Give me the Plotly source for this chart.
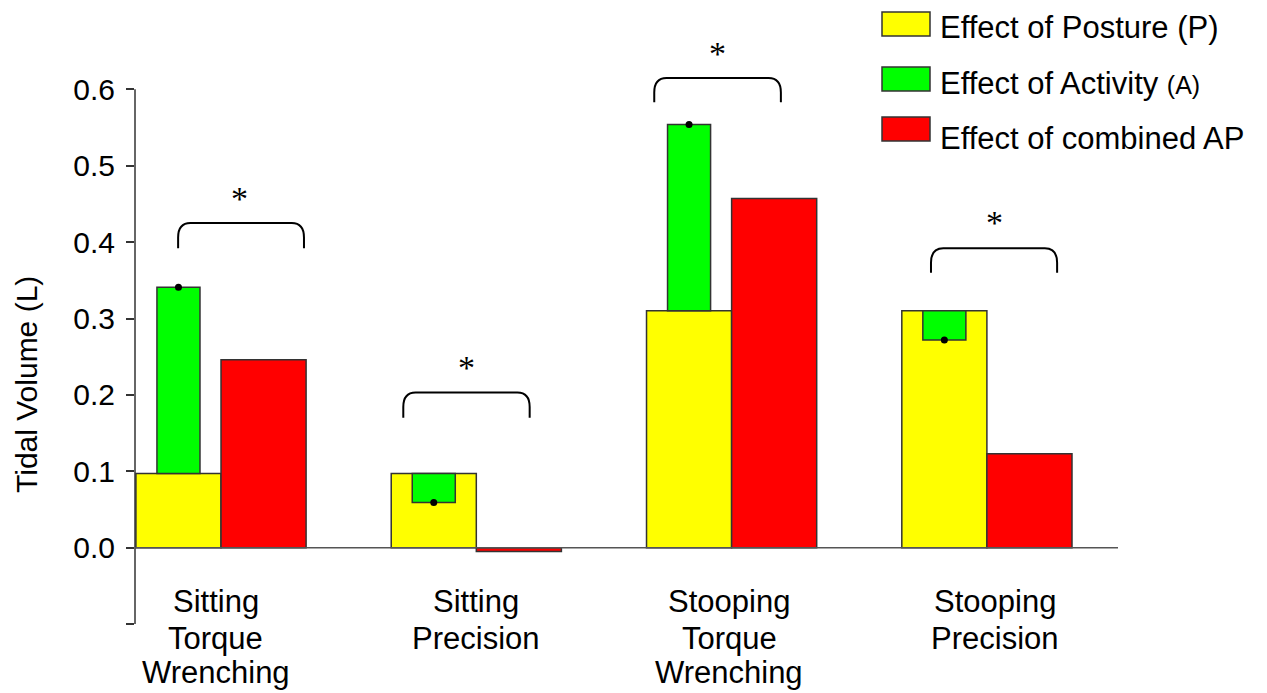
import plotly.graph_objects as go

# ---------------- data ----------------
categories = ["Sitting<br>Torque<br>Wrenching", "Sitting<br>Precision",
              "Stooping<br>Torque<br>Wrenching", "Stooping<br>Precision"]
posture = [0.097, 0.097, 0.310, 0.310]          # Effect of Posture (P)
activity_end = [0.341, 0.059, 0.554, 0.272]     # top/bottom of Activity (A) bar
combined = [0.246, -0.005, 0.457, 0.123]        # Effect of combined AP
ytick_vals = [-0.1, 0.0, 0.1, 0.2, 0.3, 0.4, 0.5, 0.6]
ytick_text = ["", "0.0", "0.1", "0.2", "0.3", "0.4", "0.5", "0.6"]
legend_labels = ["Effect of Posture (P)",
                 "Effect of Activity <span style='font-size:25px'>(A)</span>",
                 "Effect of combined AP"]

# ---------------- styling / layout constants ----------------
W, H = 1267, 693
ML, MR, MT, MB = 135, 149, 13, 69
PW, PH = W - ML - MR, H - MT - MB
YELLOW, GREEN, RED = "#FFFF00", "#00FF00", "#FF0000"
EDGE = "#333333"
FONT = "Liberation Sans, Arial, sans-serif"
BW = 0.3333          # wide bar width (group units)
GW = 0.1686          # narrow green bar width
UNIT_PX = PH / 0.8   # pixels per unit on y

def xp(px):
    return (px - ML) / PW

def yp(py):
    return (H - MB - py) / PH

def yd(py):
    return 0.7 - (py - MT) / UNIT_PX

n = len(categories)
xs = list(range(n))
x_left = [i - BW / 2 for i in xs]
x_right = [i + BW / 2 for i in xs]

fig = go.Figure()
line_style = dict(color=EDGE, width=1.5)
fig.add_trace(go.Bar(x=x_left, y=posture, width=BW,
                     marker=dict(color=YELLOW, line=line_style)))
fig.add_trace(go.Bar(x=x_right, y=combined, width=BW,
                     marker=dict(color=RED, line=line_style)))
fig.add_trace(go.Bar(x=x_left, y=[a - p for a, p in zip(activity_end, posture)],
                     base=posture, width=GW,
                     marker=dict(color=GREEN, line=line_style)))
fig.add_trace(go.Scatter(x=x_left, y=activity_end, mode="markers",
                         marker=dict(color="black", size=7), cliponaxis=False))

shapes = []
# y axis line (-0.1 .. 0.6) and x axis line at 0
shapes.append(dict(type="line", xref="paper", yref="y", x0=0, x1=0,
                   y0=-0.1, y1=0.6, line=dict(color=EDGE, width=1.5)))
shapes.append(dict(type="line", xref="paper", yref="y", x0=0, x1=1,
                   y0=0, y1=0, line=dict(color="#555555", width=1.5)))

# significance brackets (xl, xr, y_top, y_bottom) and asterisk position
brackets = [(-0.168, 0.325, 0.425, 0.392), (0.714, 1.209, 0.203, 0.170),
            (1.697, 2.193, 0.615, 0.583), (2.781, 3.275, 0.392, 0.360)]
stars = [(0.074, 0.461), (0.962, 0.240), (1.943, 0.651), (3.028, 0.430)]
rx, ry = 0.048, 0.019
for xl, xr, yt, yb in brackets:
    path = (f"M {xl},{yb} L {xl},{yt - ry} Q {xl},{yt} {xl + rx},{yt} "
            f"L {xr - rx},{yt} Q {xr},{yt} {xr},{yt - ry} L {xr},{yb}")
    shapes.append(dict(type="path", xref="x", yref="y", path=path,
                       line=dict(color="black", width=2)))

annotations = []
for sx, sy in stars:
    annotations.append(dict(x=sx, y=sy, xref="x", yref="y", text="*",
                            showarrow=False, yshift=-3,
                            font=dict(family="Liberation Serif, Times New Roman, serif",
                                      size=34, color="black")))

# category labels (one annotation per line, ~37 px line spacing)
label_dx = [-0.02, 0.0, -0.01, 0.03]
line_px = [601, 638, 673]
for i, (c, dx) in enumerate(zip(categories, label_dx)):
    for k, part in enumerate(c.split("<br>")):
        annotations.append(dict(x=i + dx, y=yp(line_px[k]), xref="x", yref="paper",
                                text=part, showarrow=False, xanchor="center",
                                yanchor="middle",
                                font=dict(family=FONT, size=31, color="black")))

# y axis title
annotations.append(dict(x=xp(26), y=yd(385), xref="paper", yref="y",
                        text="Tidal Volume (L)", textangle=-90, showarrow=False,
                        xanchor="center", yanchor="middle",
                        font=dict(family=FONT, size=30, color="black")))

# custom legend
leg_boxes = [(12, 36), (67, 91), (117, 141)]
leg_text_y = [27, 83, 138]
for (t, b), ty, col, lab in zip(leg_boxes, leg_text_y, [YELLOW, GREEN, RED], legend_labels):
    shapes.append(dict(type="rect", xref="paper", yref="paper",
                       x0=xp(882), x1=xp(930), y0=yp(b), y1=yp(t),
                       fillcolor=col, line=dict(color=EDGE, width=1.5)))
    annotations.append(dict(x=xp(938), y=yp(ty), xref="paper", yref="paper",
                            text=lab, showarrow=False, xanchor="left",
                            yanchor="middle",
                            font=dict(family=FONT, size=31, color="black")))

fig.update_layout(
    width=W, height=H,
    margin=dict(l=ML, r=MR, t=MT, b=MB, pad=0),
    plot_bgcolor="white", paper_bgcolor="white",
    barmode="overlay", showlegend=False,
    shapes=shapes, annotations=annotations,
    xaxis=dict(range=[-0.3369, 3.5135], showgrid=False, zeroline=False,
               showline=False, showticklabels=False, ticks=""),
    yaxis=dict(range=[-0.1, 0.7], showgrid=False, zeroline=False,
               showline=False, tickvals=ytick_vals, ticktext=ytick_text,
               ticks="outside", ticklen=8, tickwidth=1.5, tickcolor=EDGE,
               ticklabelstandoff=5,
               tickfont=dict(family=FONT, size=30, color="black")),
)

fig.write_html("out.html")
